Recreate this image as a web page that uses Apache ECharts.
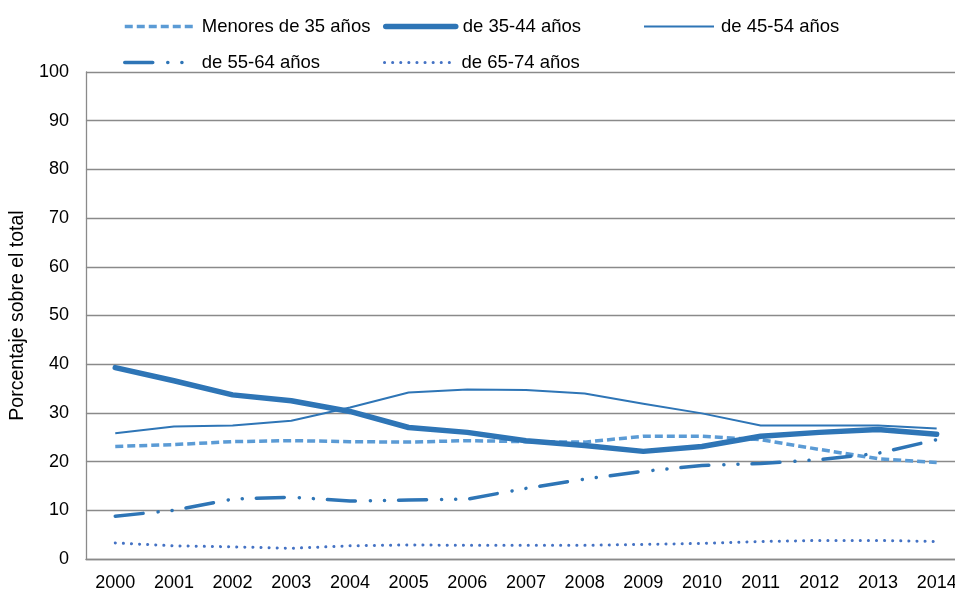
<!DOCTYPE html>
<html>
<head>
<meta charset="utf-8">
<script src="https://cdn.jsdelivr.net/npm/echarts@6/dist/echarts.min.js"></script>
<style>
  html, body { margin: 0; padding: 0; background: #fff; overflow: hidden; }
  /* el gráfico original está recortado por la derecha */
  #chart { width: 966px; height: 592px; }
</style>
</head>
<body>
<div id="chart"></div>
<script>
// datos
var years = ['2000', '2001', '2002', '2003', '2004', '2005', '2006', '2007', '2008', '2009', '2010', '2011', '2012', '2013', '2014'];
var menores35 = [23.1, 23.5, 24.1, 24.3, 24.1, 24.0, 24.3, 24.1, 24.0, 25.2, 25.2, 24.5, 22.5, 20.6, 19.8];
var de35a44 = [39.3, 36.6, 33.7, 32.5, 30.3, 27.0, 26.0, 24.3, 23.3, 22.1, 23.1, 25.2, 26.0, 26.6, 25.6];
var de45a54 = [25.8, 27.2, 27.4, 28.4, 31.1, 34.2, 34.8, 34.7, 34.0, 31.9, 29.9, 27.4, 27.4, 27.4, 26.8];
var de55a64 = [8.8, 10.0, 12.3, 12.7, 11.9, 12.1, 12.3, 14.5, 16.4, 18.0, 19.2, 19.6, 20.4, 21.7, 24.5];
var de65a74 = [3.3, 2.7, 2.5, 2.2, 2.7, 2.9, 2.8, 2.8, 2.8, 3.0, 3.2, 3.6, 3.8, 3.8, 3.6];

var names = ['Menores de 35 años', 'de 35-44 años', 'de 45-54 años', 'de 55-64 años', 'de 65-74 años'];

var chart = echarts.init(document.getElementById('chart'), null, { renderer: 'canvas' });

var font = '"Liberation Sans", Arial, sans-serif';

// una leyenda por elemento para colocarlas como en el original
function legendAt(name, left, top, width) {
    return {
        data: [name],
        left: left,
        top: top,
        padding: 0,
        itemWidth: 70,
        itemHeight: 18,
        itemStyle: { opacity: 0 },
        lineStyle: { width: width },
        textStyle: { fontFamily: font, fontSize: 18.5, color: '#000', padding: [0, 0, 0, 2] },
        selectedMode: false
    };
}

function lineSeries(name, data, color, width, type, cap) {
    return {
        name: name,
        type: 'line',
        data: data,
        symbol: 'none',
        animation: false,
        lineStyle: { color: color, width: width, type: type, cap: cap || 'butt', join: 'round' },
        itemStyle: { color: color }
    };
}

var option = {
    backgroundColor: '#fff',
    legend: [
        legendAt(names[0], 123, 17, 3.5),
        legendAt(names[1], 383, 17, 5.5),
        legendAt(names[2], 643, 17, 2),
        legendAt(names[3], 123, 53, 3.5),
        legendAt(names[4], 383, 53, 3)
    ],
    grid: {
        left: 84,
        top: 72,
        right: 0,
        bottom: 31
    },
    xAxis: {
        type: 'category',
        data: years,
        boundaryGap: true,
        axisLine: { lineStyle: { color: '#8a8a8a', width: 1.3 } },
        axisTick: { show: false },
        axisLabel: { fontFamily: font, fontSize: 18, color: '#000', margin: 15 }
    },
    yAxis: {
        type: 'value',
        min: 0,
        max: 100,
        interval: 10,
        name: 'Porcentaje sobre el total',
        nameLocation: 'middle',
        nameGap: 53,
        nameTextStyle: { fontFamily: font, fontSize: 19.5, color: '#000' },
        axisLine: { show: true, lineStyle: { color: '#8a8a8a', width: 1.3 } },
        axisTick: { show: false },
        axisLabel: { fontFamily: font, fontSize: 18, color: '#000', margin: 17 },
        splitLine: { lineStyle: { color: '#8a8a8a', width: 1.3 } }
    },
    series: [
        lineSeries(names[0], menores35, '#5b9bd5', 3.5, [8, 4]),
        lineSeries(names[2], de45a54, '#2e75b6', 2),
        lineSeries(names[1], de35a44, '#2e75b6', 5.5, 'solid', 'round'),
        lineSeries(names[3], de55a64, '#2e75b6', 3.5, [28, 15, 0.1, 14, 0.1, 14], 'round'),
        lineSeries(names[4], de65a74, '#4472c4', 3, [0.1, 8], 'round')
    ]
};

chart.setOption(option);
</script>
</body>
</html>
